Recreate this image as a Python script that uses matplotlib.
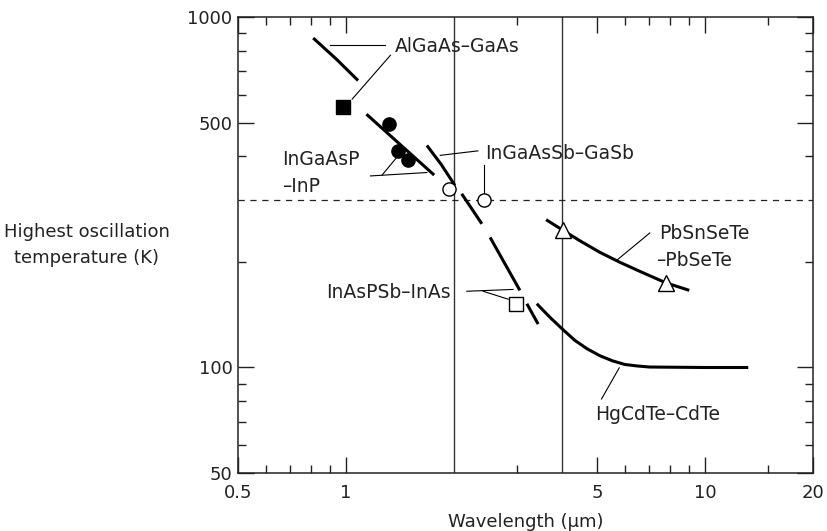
import matplotlib
matplotlib.use("Agg")
import matplotlib.pyplot as plt
from matplotlib.ticker import NullFormatter

# --- curves (wavelength in um, temperature in K) ---
algaas_wl = [0.81, 0.94, 1.08]
algaas_t = [871, 758, 659]

ingaasp_wl = [1.14, 1.76]
ingaasp_t = [528, 354]

ingaassb_wl = [1.68, 1.84, 2.01]
ingaassb_t = [430, 380, 331]
ingaassb2_wl = [2.10, 2.39]
ingaassb2_t = [313, 257]

inaspsb_wl = [2.52, 3.05]
inaspsb_t = [235, 166]
inaspsb2_wl = [3.19, 3.43]
inaspsb2_t = [152, 133]

pbsnsete_wl = [3.61, 4.03, 4.48, 5.10, 5.80, 6.59, 7.77, 9.04]
pbsnsete_t = [264, 246, 230, 213, 199.5, 188, 174.5, 166]

hgcdte_wl = [3.40, 3.70, 4.03, 4.34, 4.70, 5.10, 5.52, 5.98, 6.48, 7.02, 10.0, 13.2]
hgcdte_t = [152, 139, 128, 119.5, 113, 108, 104.5, 102, 101, 100.3, 100, 100]

# --- measured points ---
algaas_pt_wl = [0.98]
algaas_pt_t = [552]
ingaasp_pt_wl = [1.32, 1.40, 1.49]
ingaasp_pt_t = [496, 414, 391]
ingaassb_pt_wl = [1.94, 2.43]
ingaassb_pt_t = [322, 301]
inaspsb_pt_wl = [2.97]
inaspsb_pt_t = [152]
pbsnsete_pt_wl = [4.03, 7.77]
pbsnsete_pt_t = [246, 174.5]

room_temp = 300
guide_wl = [2, 4]

xticks = [0.5, 1, 5, 10, 20]
xtick_labels = ["0.5", "1", "5", "10", "20"]
xminor = [0.6, 0.7, 0.8, 0.9, 3, 6, 7, 8, 9, 15]
yticks = [50, 100, 500, 1000]
ytick_labels = ["50", "100", "500", "1000"]
yminor = [60, 70, 80, 90, 200, 400, 600, 700, 800, 900]

TXT = "#222222"
FS = 13
FS_LBL = 13.5

fig = plt.figure(figsize=(8.27, 5.31), dpi=100)
ax = fig.add_axes([238 / 827, 1 - 473 / 531, 575 / 827, 456 / 531])
ax.set_xscale("log")
ax.set_yscale("log")
ax.set_xlim(0.5, 20)
ax.set_ylim(50, 1000)

# guide lines
for g in guide_wl:
    ax.axvline(g, color="#333333", lw=1.0, zorder=1)
ax.axhline(room_temp, color="#222222", lw=0.9, ls=(0, (5, 4.5)), zorder=1)

# curve segments
curve_kw = dict(color="black", lw=2.2, solid_capstyle="butt",
                solid_joinstyle="round", zorder=3)
for wl, t in [(algaas_wl, algaas_t), (ingaasp_wl, ingaasp_t),
              (ingaassb_wl, ingaassb_t), (ingaassb2_wl, ingaassb2_t),
              (inaspsb_wl, inaspsb_t), (inaspsb2_wl, inaspsb2_t),
              (pbsnsete_wl, pbsnsete_t), (hgcdte_wl, hgcdte_t)]:
    ax.plot(wl, t, **curve_kw)

# points
ax.plot(algaas_pt_wl, algaas_pt_t, "s", ms=10, color="black", zorder=5)
ax.plot(ingaasp_pt_wl, ingaasp_pt_t, "o", ms=9.5, color="black", zorder=5)
ax.plot(ingaassb_pt_wl, ingaassb_pt_t, "o", ms=9.5, mfc="white", mec="black", mew=1.0, zorder=5)
ax.plot(inaspsb_pt_wl, inaspsb_pt_t, "s", ms=10, mfc="white", mec="black", mew=1.0, zorder=5)
ax.plot(pbsnsete_pt_wl, pbsnsete_pt_t, "^", ms=11, mfc="white", mec="black", mew=1.0, zorder=5)

# leader lines
leaders = [
    [(0.902, 832), (1.284, 832)],
    [(1.33, 778), (1.04, 583)],
    [(1.17, 352), (1.68, 360)],
    [(1.26, 354), (1.38, 396)],
    [(1.83, 403), (2.33, 415)],
    [(2.43, 379), (2.43, 301)],
    [(2.17, 165), (2.92, 167)],
    [(2.41, 165), (2.83, 156.6)],
    [(5.67, 202), (7.02, 242)],
    [(5.77, 99.8), (5.15, 81.3)],
]
for seg in leaders:
    xs, ys = zip(*seg)
    ax.plot(xs, ys, color="black", lw=0.8, zorder=2)

# labels
labels = [
    ("AlGaAs\u2013GaAs", 1.37, 795, "left"),
    ("InGaAsP", 0.662, 379, "left"),
    ("\u2013InP", 0.662, 317, "left"),
    ("InGaAsSb\u2013GaSb", 2.44, 394, "left"),
    ("InAsPSb\u2013InAs", 1.96, 158, "right"),
    ("PbSnSeTe", 7.44, 232, "left"),
    ("\u2013PbSeTe", 7.33, 194.5, "left"),
    ("HgCdTe\u2013CdTe", 4.935, 70.6, "left"),
]
for s, x, y, ha in labels:
    ax.text(x, y, s, ha=ha, va="baseline", fontsize=FS_LBL, color=TXT, zorder=6)

# axes / ticks
ax.set_xticks(xticks, labels=xtick_labels)
ax.set_xticks(xminor, minor=True)
ax.set_yticks(yticks, labels=ytick_labels)
ax.set_yticks(yminor, minor=True)
ax.xaxis.set_minor_formatter(NullFormatter())
ax.yaxis.set_minor_formatter(NullFormatter())
ax.tick_params(which="both", direction="in", top=True, right=True,
               width=1.0, color="#222222", labelcolor=TXT, labelsize=FS)
ax.tick_params(which="major", length=11.5)
ax.tick_params(which="minor", length=5.8)
ax.tick_params(axis="x", which="major", pad=8)
ax.tick_params(axis="y", which="major", pad=4)
for sp in ax.spines.values():
    sp.set_linewidth(1.1)
    sp.set_color("#222222")

fig.text(525.5 / 827, 1 - 527 / 531, "Wavelength (\u03bcm)", ha="center",
         va="baseline", fontsize=FS, color=TXT)
fig.text(87 / 827, 1 - 237 / 531, "Highest oscillation", ha="center",
         va="baseline", fontsize=FS, color=TXT)
fig.text(87 / 827, 1 - 263 / 531, "temperature (K)", ha="center",
         va="baseline", fontsize=FS, color=TXT)

fig.savefig("out.png", dpi=100)
